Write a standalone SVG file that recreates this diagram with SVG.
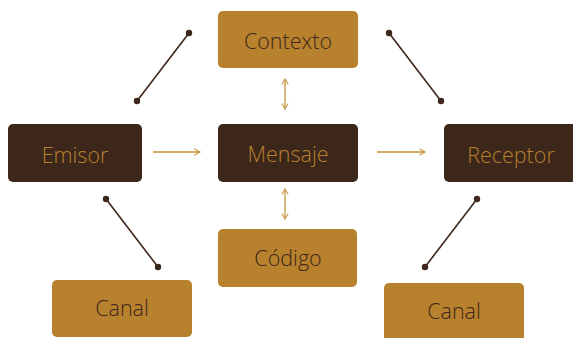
<svg xmlns="http://www.w3.org/2000/svg" width="573" height="338" viewBox="0 0 573 338">
<style>
.dark{fill:#3d261a}
.gold{fill:#b8812e}
.tl{font-family:"Open Sans","Noto Sans",sans-serif;font-size:21.5px;font-weight:300;text-anchor:middle;dominant-baseline:central}
.tdark{fill:#b8812e}
.tgold{fill:#3d261a}
.link{stroke:#3d261a;stroke-width:1.6;fill:none}
.arr{stroke:#c8913a;stroke-width:1.3;fill:none}
</style>
<defs>
<marker id="ah" viewBox="0 0 10 10" refX="9" refY="5" markerWidth="8" markerHeight="8" markerUnits="userSpaceOnUse" orient="auto-start-reverse">
<path d="M2 1 L9 5 L2 9" fill="none" stroke="#c8913a" stroke-width="1.3"/>
</marker>
</defs>
<g id="connectors">
<line class="link" x1="189" y1="33" x2="137" y2="101"/>
<circle cx="189" cy="33" r="3.2" fill="#3d261a"/><circle cx="137" cy="101" r="3.2" fill="#3d261a"/>
<line class="link" x1="389" y1="33" x2="441" y2="101"/>
<circle cx="389" cy="33" r="3.2" fill="#3d261a"/><circle cx="441" cy="101" r="3.2" fill="#3d261a"/>
<line class="link" x1="106" y1="199" x2="158" y2="267"/>
<circle cx="106" cy="199" r="3.2" fill="#3d261a"/><circle cx="158" cy="267" r="3.2" fill="#3d261a"/>
<line class="link" x1="477" y1="199" x2="425" y2="267"/>
<circle cx="477" cy="199" r="3.2" fill="#3d261a"/><circle cx="425" cy="267" r="3.2" fill="#3d261a"/>
<line class="arr" x1="153" y1="152" x2="200" y2="152" marker-end="url(#ah)"/>
<line class="arr" x1="377" y1="152" x2="425" y2="152" marker-end="url(#ah)"/>
<line class="arr" x1="285" y1="79" x2="285" y2="109" marker-start="url(#ah)" marker-end="url(#ah)"/>
<line class="arr" x1="285" y1="189" x2="285" y2="219" marker-start="url(#ah)" marker-end="url(#ah)"/>
</g>
<g id="contexto"><rect class="gold" x="218" y="11" width="140" height="57" rx="5"/><text class="tl tgold" x="288" y="40">Contexto</text></g>
<g id="emisor"><rect class="dark" x="8" y="124" width="134" height="58" rx="5"/><text class="tl tdark" x="75" y="154">Emisor</text></g>
<g id="mensaje"><rect class="dark" x="218" y="124" width="140" height="58" rx="5"/><text class="tl tdark" x="288" y="153">Mensaje</text></g>
<g id="receptor"><rect class="dark" x="444" y="124" width="134" height="58" rx="5"/><text class="tl tdark" x="511" y="154">Receptor</text></g>
<g id="codigo"><rect class="gold" x="218" y="229" width="139" height="58" rx="5"/><text class="tl tgold" x="288" y="257">Código</text></g>
<g id="canal1"><rect class="gold" x="52" y="280" width="140" height="57" rx="5"/><text class="tl tgold" x="122" y="307">Canal</text></g>
<g id="canal2"><rect class="gold" x="384" y="283" width="140" height="60" rx="5"/><text class="tl tgold" x="454" y="310">Canal</text></g>
</svg>
